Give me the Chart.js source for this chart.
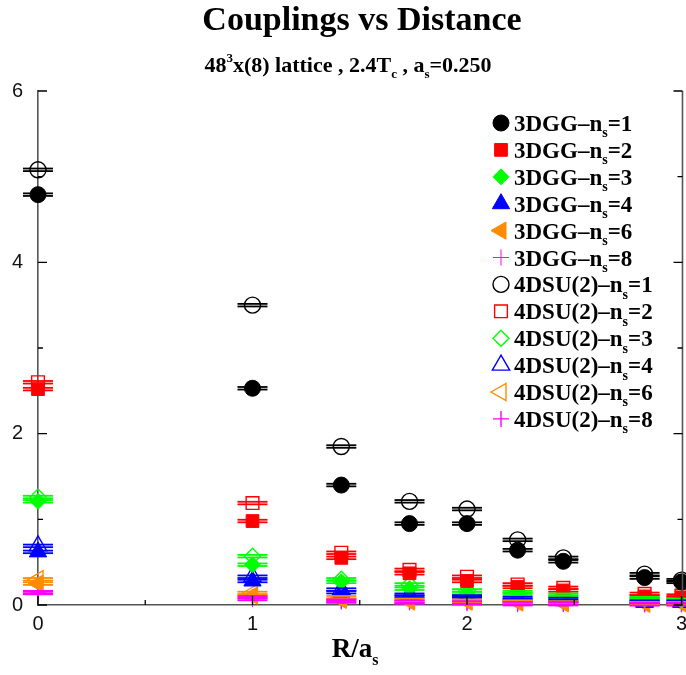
<!DOCTYPE html>
<html>
<head>
<meta charset="utf-8">
<script src="https://cdn.jsdelivr.net/npm/chart.js@4.4.1/dist/chart.umd.min.js"></script>
<style>
  body { margin: 0; background: #fff; }
  #wrap { width: 686px; height: 675px; }
</style>
</head>
<body>
<div id="wrap"><canvas id="myChart" width="686" height="675"></canvas></div>
<script>
// Separation R/a_s (sqrt of lattice distances)
const xVals = [0, 1, 1.414, 1.732, 2, 2.236, 2.449, 2.828, 3];

// 3DGG couplings, one array per smearing level n_s
const gg1 = [4.79, 2.53, 1.40, 0.95, 0.95, 0.64, 0.51, 0.32, 0.27];
const gg2 = [2.52, 0.98, 0.55, 0.37, 0.28, 0.21, 0.17, 0.10, 0.09];
const gg3 = [1.21, 0.47, 0.27, 0.19, 0.14, 0.13, 0.10, 0.06, 0.05];
const gg4 = [0.62, 0.28, 0.15, 0.10, 0.08, 0.06, 0.05, 0.03, 0.03];
const gg6 = [0.25, 0.11, 0.06, 0.04, 0.04, 0.03, 0.02, 0.02, 0.02];
const gg8 = [0.14, 0.07, 0.04, 0.03, 0.02, 0.01, 0.01, 0.01, 0.01];

// 4DSU(2) couplings
const su1 = [5.08, 3.50, 1.85, 1.21, 1.12, 0.76, 0.55, 0.36, 0.29];
const su2 = [2.60, 1.19, 0.61, 0.41, 0.33, 0.24, 0.20, 0.13, 0.11];
const su3 = [1.26, 0.57, 0.30, 0.24, 0.17, 0.15, 0.12, 0.08, 0.06];
const su4 = [0.69, 0.33, 0.18, 0.12, 0.10, 0.08, 0.07, 0.04, 0.04];
const su6 = [0.30, 0.14, 0.09, 0.06, 0.05, 0.04, 0.03, 0.02, 0.02];
const su8 = [0.15, 0.09, 0.05, 0.04, 0.03, 0.02, 0.02, 0.01, 0.01];

const nsLevels = [1, 2, 3, 4, 6, 8];
const groupNames = ['3DGG', '4DSU(2)'];
const xTicks = [0, 1, 2, 3];
const yTicks = [0, 2, 4, 6];
const errSize = 0.015;

// marker look per n_s
const looks = [
  { color: '#000000', shape: 'circle', rot: 0, r: 8 },
  { color: '#ff0000', shape: 'rect', rot: 0, r: 9 },
  { color: '#00ff00', shape: 'rectRot', rot: 0, r: 8 },
  { color: '#0000ff', shape: 'triangle', rot: 0, r: 10 },
  { color: '#ff8c00', shape: 'triangle', rot: -90, r: 10 },
  { color: '#ff00ff', shape: 'cross', rot: 0, r: 8 }
];

const ggSeries = [gg1, gg2, gg3, gg4, gg6, gg8];
const suSeries = [su1, su2, su3, su4, su6, su8];

function makeSet(values, look, filled, group, ns) {
  return {
    label: group + '–n_s=' + ns,
    group: group, ns: ns, filled: filled,
    data: values.map((v, i) => ({ x: xVals[i], y: v })),
    pointStyle: look.shape,
    pointRotation: look.rot,
    pointRadius: look.r,
    pointHoverRadius: look.r,
    borderColor: look.color,
    backgroundColor: filled ? look.color : 'rgba(0,0,0,0)',
    borderWidth: filled ? 1 : 1.4,
    showLine: false,
    clip: false
  };
}

const datasets = [];
ggSeries.forEach((s, i) => datasets.push(makeSet(s, looks[i], true, groupNames[0], nsLevels[i])));
suSeries.forEach((s, i) => datasets.push(makeSet(s, looks[i], false, groupNames[1], nsLevels[i])));

// draw text with sub/superscript pieces
function richText(ctx, segs, x, y, size, align) {
  const main = 'bold ' + size + 'px "Liberation Serif", "Times New Roman", serif';
  const small = 'bold ' + Math.round(size * 0.6) + 'px "Liberation Serif", "Times New Roman", serif';
  let total = 0;
  segs.forEach(s => { ctx.font = s.k ? small : main; total += ctx.measureText(s.t).width; });
  let cx = align === 'center' ? x - total / 2 : x;
  ctx.textAlign = 'left';
  ctx.textBaseline = 'alphabetic';
  segs.forEach(s => {
    ctx.font = s.k ? small : main;
    let dy = 0;
    if (s.k === 'sub') dy = size * 0.28;
    if (s.k === 'sup') dy = -size * 0.45;
    ctx.fillText(s.t, cx, y + dy);
    cx += ctx.measureText(s.t).width;
  });
}

const textPlugin = {
  id: 'texts',
  afterDraw(chart) {
    const ctx = chart.ctx;
    ctx.save();
    ctx.fillStyle = '#000';
    richText(ctx, [{ t: 'Couplings vs Distance' }], 362, 30, 34, 'center');
    richText(ctx, [
      { t: '48' }, { t: '3', k: 'sup' }, { t: 'x(8) lattice , 2.4T' }, { t: 'c', k: 'sub' },
      { t: ' , a' }, { t: 's', k: 'sub' }, { t: '=0.250' }
    ], 348, 72, 22, 'center');
    richText(ctx, [{ t: 'R/a' }, { t: 's', k: 'sub' }], 355, 657, 27, 'center');
    ctx.restore();
  }
};

// legend inside the plot, top right
const legendPlugin = {
  id: 'inLegend',
  afterDraw(chart) {
    const ctx = chart.ctx;
    const drawPoint = Chart.helpers.drawPoint;
    ctx.save();
    chart.data.datasets.forEach((ds, i) => {
      const y = 123 + i * 26.9;
      ctx.fillStyle = ds.backgroundColor;
      ctx.strokeStyle = ds.borderColor;
      ctx.lineWidth = ds.borderWidth;
      drawPoint(ctx, { pointStyle: ds.pointStyle, rotation: ds.pointRotation, radius: ds.pointRadius, borderWidth: ds.borderWidth }, 501, y);
      ctx.fillStyle = '#000';
      richText(ctx, [{ t: ds.group + '–n' }, { t: 's', k: 'sub' }, { t: '=' + ds.ns }], 514, y + 8, 23, 'left');
    });
    ctx.restore();
  }
};

// horizontal error caps through every point
const capsPlugin = {
  id: 'caps',
  afterDatasetsDraw(chart) {
    const ctx = chart.ctx;
    const xs = chart.scales.x, ys = chart.scales.y;
    ctx.save();
    ctx.lineWidth = 1.8;
    chart.data.datasets.forEach(ds => {
      ctx.strokeStyle = ds.borderColor;
      ds.data.forEach(p => {
        const px = xs.getPixelForValue(p.x);
        [p.y - errSize, p.y + errSize].forEach(v => {
          const py = ys.getPixelForValue(v);
          ctx.beginPath();
          ctx.moveTo(px - 15, py);
          ctx.lineTo(px + 15, py);
          ctx.stroke();
        });
      });
    });
    ctx.restore();
  }
};

// inward tick marks and right frame line
const frameTicks = {
  id: 'frameTicks',
  afterDraw(chart) {
    const ctx = chart.ctx;
    const a = chart.chartArea;
    const xs = chart.scales.x, ys = chart.scales.y;
    ctx.save();
    ctx.strokeStyle = '#555';
    ctx.lineWidth = 1.6;
    ctx.beginPath();
    ctx.moveTo(a.right + 1, a.top);
    ctx.lineTo(a.right + 1, a.bottom);
    ctx.stroke();
    ctx.strokeStyle = '#000';
    ctx.lineWidth = 1.3;
    for (let v = 0; v <= 6; v++) {
      const py = ys.getPixelForValue(v);
      const len = v % 2 === 0 ? 9 : 5;
      ctx.beginPath();
      ctx.moveTo(a.left, py); ctx.lineTo(a.left + len, py);
      ctx.moveTo(a.right + 1, py); ctx.lineTo(a.right + 1 - len, py);
      ctx.stroke();
    }
    for (let v = 0; v <= 3; v += 0.5) {
      const px = xs.getPixelForValue(v);
      const len = Number.isInteger(v) ? 9 : 5;
      ctx.beginPath();
      ctx.moveTo(px, a.bottom); ctx.lineTo(px, a.bottom - len);
      ctx.stroke();
    }
    ctx.restore();
  }
};

const ctx = document.getElementById('myChart');
const myChart = new Chart(ctx, {
  type: 'scatter',
  data: { datasets: datasets },
  options: {
    responsive: false,
    animation: false,
    layout: { autoPadding: false, padding: { top: 91, left: 0, right: 4.5, bottom: 0 } },
    plugins: {
      legend: { display: false },
      title: { display: false },
      tooltip: { enabled: false }
    },
    scales: {
      x: {
        type: 'linear', min: 0, max: 3,
        afterFit: s => { s.height = 70; s.paddingLeft = 0; s.paddingRight = 0; },
        afterBuildTicks: s => { s.ticks = xTicks.map(v => ({ value: v })); },
        grid: { display: false, drawTicks: false },
        border: { display: true, color: '#555', width: 1.6 },
        ticks: { padding: 7, color: '#111', font: { family: '"Liberation Sans", Arial, sans-serif', size: 20 } }
      },
      y: {
        type: 'linear', min: 0, max: 6,
        afterFit: s => { s.width = 38; s.paddingTop = 0; s.paddingBottom = 0; },
        afterBuildTicks: s => { s.ticks = yTicks.map(v => ({ value: v })); },
        grid: { display: false, drawTicks: false },
        border: { display: true, color: '#555', width: 1.6 },
        ticks: { padding: 15, color: '#111', font: { family: '"Liberation Sans", Arial, sans-serif', size: 20 } }
      }
    }
  },
  plugins: [capsPlugin, frameTicks, legendPlugin, textPlugin]
});
</script>
</body>
</html>
